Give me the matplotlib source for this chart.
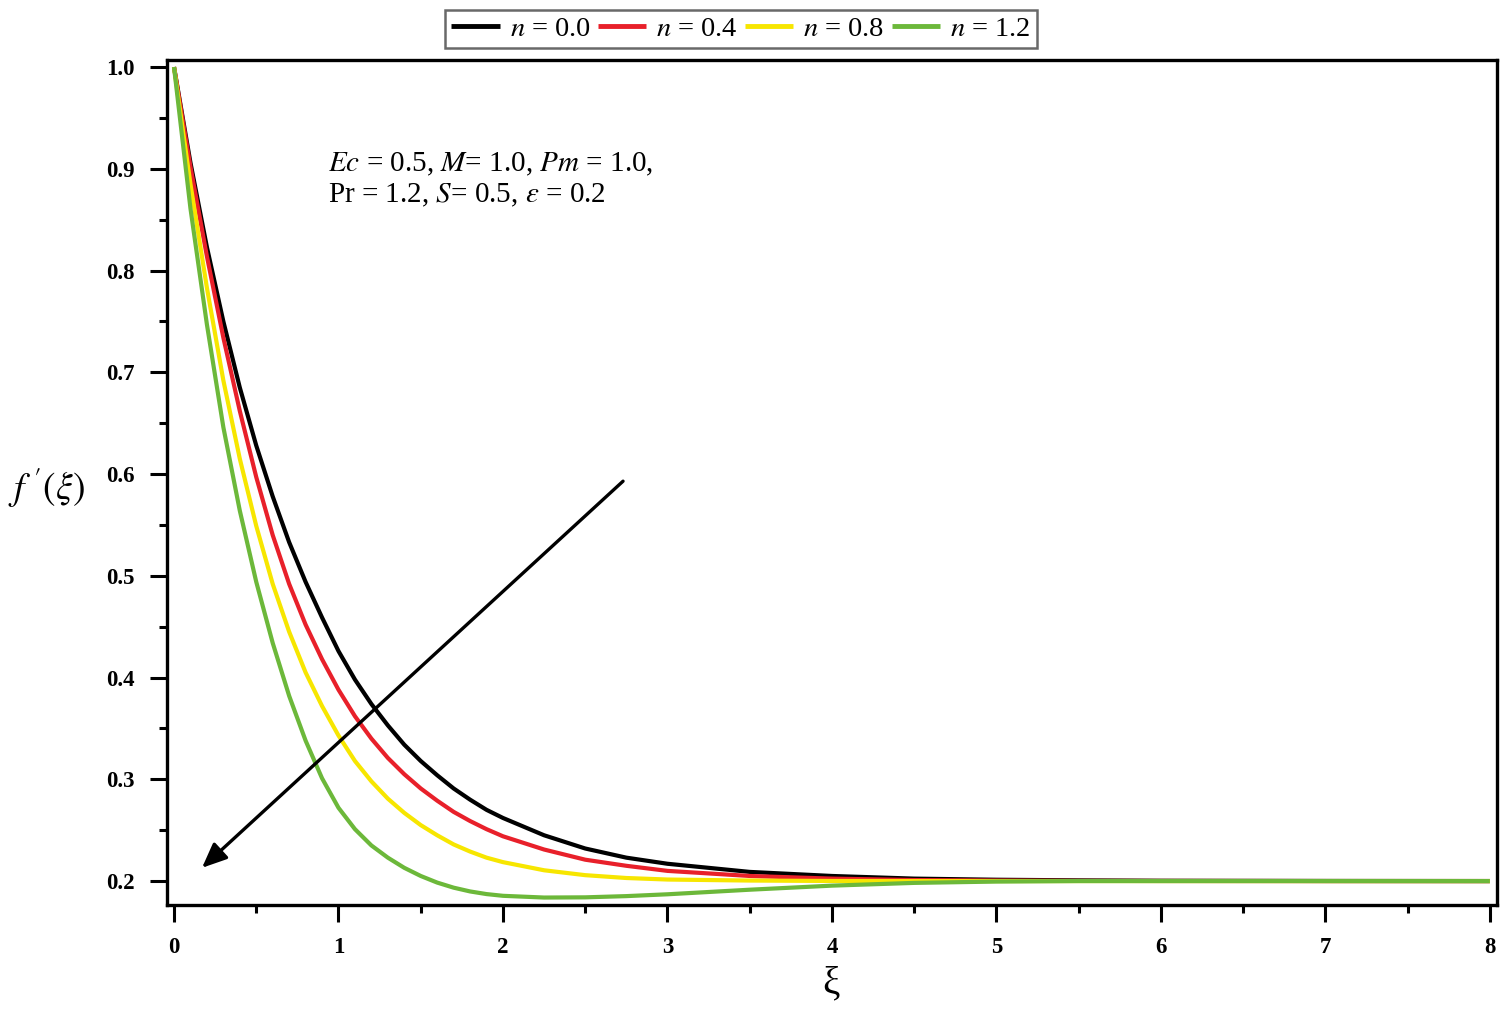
import matplotlib
matplotlib.use("Agg")
import matplotlib.pyplot as plt
from matplotlib.ticker import MultipleLocator

plt.rcParams["font.family"] = ["Liberation Serif", "DejaVu Serif"]
plt.rcParams["mathtext.fontset"] = "stix"

# --- data ----------------------------------------------------------------
xi = [0.0, 0.1, 0.2, 0.3, 0.4, 0.5, 0.6, 0.7, 0.8, 0.9, 1.0,
      1.1, 1.2, 1.3, 1.4, 1.5, 1.6, 1.7, 1.8, 1.9, 2.0,
      2.25, 2.5, 2.75, 3.0, 3.5, 4.0, 4.5, 5.0, 5.5, 6.0, 7.0, 8.0]

f_n00 = [1.000, 0.906, 0.823, 0.750, 0.685, 0.628, 0.578, 0.533, 0.494, 0.459, 0.426,
         0.398, 0.374, 0.353, 0.334, 0.318, 0.304, 0.291, 0.280, 0.270, 0.262,
         0.245, 0.232, 0.223, 0.217, 0.209, 0.205, 0.2024, 0.2013, 0.2007, 0.2003, 0.2001, 0.200]
f_n04 = [1.000, 0.902, 0.814, 0.734, 0.662, 0.597, 0.540, 0.492, 0.452, 0.418, 0.388,
         0.362, 0.340, 0.321, 0.305, 0.291, 0.279, 0.268, 0.259, 0.251, 0.244,
         0.231, 0.221, 0.215, 0.210, 0.205, 0.2024, 0.201, 0.2005, 0.2002, 0.2001, 0.200, 0.200]
f_n08 = [1.000, 0.885, 0.783, 0.692, 0.615, 0.549, 0.492, 0.445, 0.405, 0.372, 0.343,
         0.318, 0.298, 0.281, 0.267, 0.255, 0.245, 0.236, 0.229, 0.223, 0.2186,
         0.2106, 0.2058, 0.203, 0.2015, 0.2005, 0.2001, 0.200, 0.200, 0.200, 0.200, 0.200, 0.200]
f_n12 = [1.000, 0.861, 0.747, 0.646, 0.564, 0.494, 0.434, 0.382, 0.338, 0.301, 0.272,
         0.251, 0.235, 0.223, 0.213, 0.205, 0.1985, 0.1935, 0.1898, 0.1872, 0.1855,
         0.1838, 0.1840, 0.1852, 0.1870, 0.1915, 0.1955, 0.1982, 0.1995, 0.200, 0.200, 0.200, 0.200]

series = [f_n00, f_n04, f_n08, f_n12]
labels = ["$n$ = 0.0", "$n$ = 0.4", "$n$ = 0.8", "$n$ = 1.2"]
colors = ["#000000", "#e8202a", "#f7e600", "#6cb83a"]

# arrow annotation (tail -> head), data coordinates
arrow_tail = (2.73, 0.593)
arrow_head = (0.17, 0.213)

fig = plt.figure(figsize=(15.04, 10.09), dpi=100)
fig.patch.set_facecolor("white")
ax = fig.add_axes([0.111, 0.103, 0.8843, 0.8375])

handles = []
for ys, lab, col in zip(series, labels, colors):
    h, = ax.plot(xi, ys, color=col, lw=3.0, label=lab,
                 solid_capstyle="butt", solid_joinstyle="round")
    handles.append(h)

ax.set_xlim(-0.043, 8.043)
ax.set_ylim(0.1764, 1.0069)

ax.xaxis.set_major_locator(MultipleLocator(1))
ax.xaxis.set_minor_locator(MultipleLocator(0.5))
ax.yaxis.set_major_locator(MultipleLocator(0.1))
ax.yaxis.set_minor_locator(MultipleLocator(0.05))
ax.yaxis.set_major_formatter(plt.FuncFormatter(lambda v, p: f"{v:.1f}"))

ax.tick_params(which="major", direction="out", length=12, width=2.2,
               labelsize=16.5, pad=11)
ax.tick_params(which="minor", direction="out", length=6, width=2.2)
for lab in ax.get_xticklabels() + ax.get_yticklabels():
    lab.set_fontweight("bold")
for sp in ax.spines.values():
    sp.set_linewidth(2.4)

ax.annotate("", xy=arrow_head, xytext=arrow_tail,
            arrowprops=dict(arrowstyle="-|>,head_length=1.5,head_width=0.65",
                            color="black", lw=2.4, shrinkA=0, shrinkB=0))

ax.text(0.935, 0.889, "$Ec$ = 0.5, $M$= 1.0, $Pm$ = 1.0,\nPr = 1.2, $S$= 0.5, $\\epsilon$ = 0.2",
        fontsize=21, ha="left", va="center", linespacing=1.15)

fig.text(0.031, 0.517, "$f\\ '(\\xi)$", fontsize=27, ha="center", va="center")
fig.text(0.5525, 0.025, "ξ", fontsize=28, ha="center", va="center")

leg = fig.legend(handles=handles, loc="upper center", bbox_to_anchor=(0.4927, 0.996),
                 ncol=4, fontsize=20.5, frameon=True, fancybox=False,
                 handlelength=1.7, handletextpad=0.35, columnspacing=0.25,
                 borderpad=0.22, borderaxespad=0.2)
leg.get_frame().set_edgecolor("#444444")
leg.get_frame().set_linewidth(1.8)
for lh in leg.get_lines():
    lh.set_linewidth(3.5)

fig.savefig("out.png", dpi=100, facecolor="white")
